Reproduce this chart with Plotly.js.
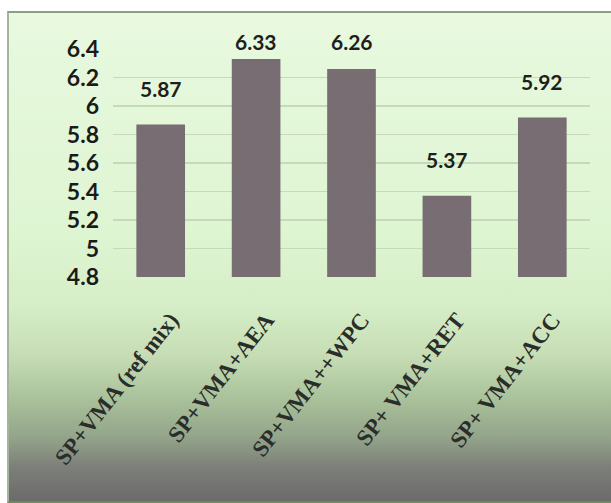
<!DOCTYPE html>
<html>
<head>
<meta charset="utf-8">
<script src="https://cdn.plot.ly/plotly-3.0.1.min.js"></script>
<style>
  html, body { margin: 0; padding: 0; background: #ffffff; }
  #wrap { position: relative; width: 611px; height: 503px; overflow: hidden; }
  #panel {
    position: absolute; left: 7px; top: 11px; width: 604px; height: 492px;
    box-sizing: border-box;
    border-top: 2px solid #8e9e86; border-left: 2px solid #a3b59a; border-bottom: 2px solid #6f8a62;
    background: linear-gradient(to bottom,
      #e8f9df 0%, #def5d2 45%, #d6eec7 60%, #c6ddb5 70%,
      #aac29b 79%, #93a48a 87%, #7c8079 93%, #6b6b6b 100%);
  }
  #chart { position: absolute; left: 0; top: 0; width: 611px; height: 503px; }
</style>
</head>
<body>
<div id="wrap">
  <div id="panel"></div>
  <div id="chart"></div>
</div>
<script>
// Mixes and their measured values
const mixes = [
  "SP+VMA (ref mix)",
  "SP+VMA+AEA",
  "SP+VMA++WPC",
  "SP+ VMA+RET",
  "SP+ VMA+ACC"
];
const values = [5.87, 6.33, 6.26, 5.37, 5.92];
const yTicks = [4.8, 5, 5.2, 5.4, 5.6, 5.8, 6, 6.2, 6.4];
const yTickText = ["4.8", "5", "5.2", "5.4", "5.6", "5.8", "6", "6.2", "6.4"];

const yMin = 4.8, yMax = 6.4;
const labelFont = { family: "Lato, 'Liberation Sans', sans-serif", size: 21, color: "#1e1e1e", weight: 700 };

const bars = {
  type: "bar",
  x: mixes,
  y: values,
  marker: { color: "#776d72" },
  hoverinfo: "x+y"
};

// Value labels float above each bar, held just under the top edge of the panel
const annotations = values.map((v, i) => ({
  x: mixes[i],
  xref: "x",
  y: (Math.min(v + 0.253, yMax + 0.05) - yMin) / (yMax - yMin),
  yref: "paper",
  text: v.toFixed(2),
  showarrow: false,
  yanchor: "middle",
  font: labelFont
}));

const layout = {
  width: 611,
  height: 503,
  margin: { l: 113, r: 21, t: 49, b: 226 },
  paper_bgcolor: "rgba(0,0,0,0)",
  plot_bgcolor: "rgba(0,0,0,0)",
  showlegend: false,
  bargap: 0.49,
  xaxis: {
    type: "category",
    tickangle: -52,
    tickfont: { family: "'Liberation Serif', 'Times New Roman', serif", size: 23, color: "#2a2d2a", weight: 700 },
    ticks: "",
    ticklabelshift: 10,
    ticklabelstandoff: 24,
    showline: false,
    showgrid: false,
    zeroline: false
  },
  yaxis: {
    range: [yMin, yMax],
    tickvals: yTicks,
    ticktext: yTickText,
    tickfont: { family: "Lato, 'Liberation Sans', sans-serif", size: 23, color: "#1a1a1a", weight: 700 },
    ticks: "",
    ticklabelstandoff: 13,
    showgrid: true,
    gridcolor: "#c6d9b9",
    gridwidth: 1.5,
    zeroline: false,
    showline: false
  },
  annotations: annotations
};

Plotly.newPlot("chart", [bars], layout, { displayModeBar: false, staticPlot: true });
</script>
</body>
</html>
